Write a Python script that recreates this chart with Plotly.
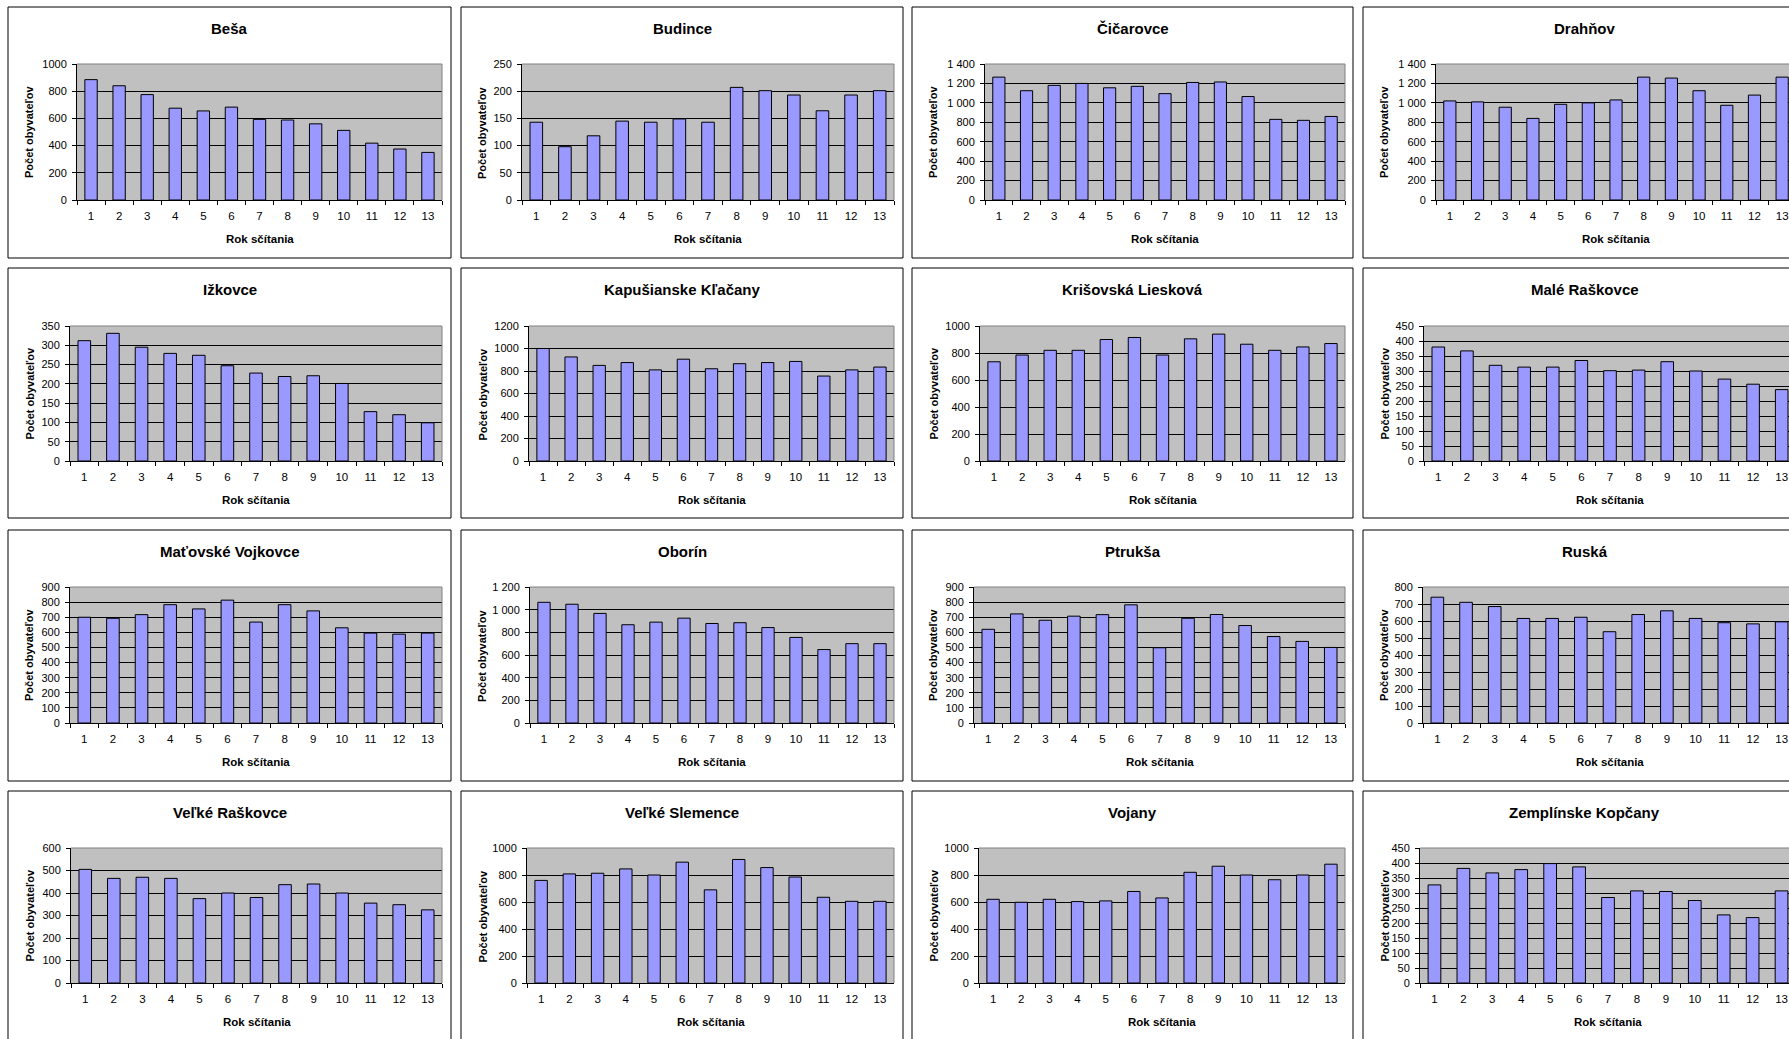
import plotly.graph_objects as go

W, H = 1789, 1039

years = [str(i) for i in range(1, 14)]

names = ["Beša", "Budince", "Čičarovce", "Drahňov",
         "Ižkovce", "Kapušianske Kľačany", "Krišovská Liesková", "Malé Raškovce",
         "Maťovské Vojkovce", "Oborín", "Ptrukša", "Ruská",
         "Veľké Raškovce", "Veľké Slemence", "Vojany", "Zemplínske Kopčany"]

besa = [885, 840, 775, 675, 655, 683, 593, 588, 560, 512, 418, 375, 350]
budince = [143, 98, 118, 145, 143, 149, 143, 207, 201, 193, 164, 193, 201]
cicarovce = [1265, 1125, 1180, 1200, 1155, 1170, 1095, 1210, 1215, 1065, 830, 820, 860]
drahnov = [1020, 1010, 955, 840, 985, 1000, 1030, 1265, 1255, 1125, 975, 1080, 1265]
izkovce = [312, 331, 295, 279, 274, 247, 228, 219, 221, 201, 128, 120, 99]
kapusianske = [1000, 925, 850, 875, 810, 905, 820, 865, 875, 885, 755, 810, 835]
krisovska = [735, 785, 820, 820, 900, 915, 785, 905, 940, 865, 820, 845, 870]
male_raskovce = [380, 367, 319, 313, 313, 335, 301, 303, 331, 300, 273, 256, 238]
matovske = [700, 693, 717, 783, 755, 813, 668, 783, 742, 630, 595, 588, 595]
oborin = [1065, 1048, 967, 867, 890, 925, 878, 885, 842, 755, 648, 700, 700]
ptruksa = [620, 722, 680, 707, 717, 782, 498, 693, 718, 645, 572, 540, 500]
ruska = [740, 710, 685, 615, 615, 622, 537, 638, 660, 615, 590, 583, 595]
velke_raskovce = [505, 465, 470, 465, 375, 400, 380, 437, 440, 400, 355, 348, 325]
velke_slemence = [760, 808, 813, 845, 800, 895, 690, 915, 855, 785, 635, 605, 605]
vojany = [620, 598, 620, 603, 608, 678, 630, 820, 865, 800, 765, 800, 880]
zemplinske = [327, 382, 367, 378, 398, 387, 285, 307, 305, 275, 227, 218, 307]

ticks_besa = ["0", "200", "400", "600", "800", "1000"]
ticks_budince = ["0", "50", "100", "150", "200", "250"]
ticks_cicarovce = ["0", "200", "400", "600", "800", "1 000", "1 200", "1 400"]
ticks_drahnov = ["0", "200", "400", "600", "800", "1 000", "1 200", "1 400"]
ticks_izkovce = ["0", "50", "100", "150", "200", "250", "300", "350"]
ticks_kapusianske = ["0", "200", "400", "600", "800", "1000", "1200"]
ticks_krisovska = ["0", "200", "400", "600", "800", "1000"]
ticks_male_raskovce = ["0", "50", "100", "150", "200", "250", "300", "350", "400", "450"]
ticks_matovske = ["0", "100", "200", "300", "400", "500", "600", "700", "800", "900"]
ticks_oborin = ["0", "200", "400", "600", "800", "1 000", "1 200"]
ticks_ptruksa = ["0", "100", "200", "300", "400", "500", "600", "700", "800", "900"]
ticks_ruska = ["0", "100", "200", "300", "400", "500", "600", "700", "800"]
ticks_velke_raskovce = ["0", "100", "200", "300", "400", "500", "600"]
ticks_velke_slemence = ["0", "200", "400", "600", "800", "1000"]
ticks_vojany = ["0", "200", "400", "600", "800", "1000"]
ticks_zemplinske = ["0", "50", "100", "150", "200", "250", "300", "350", "400", "450"]

series = [besa, budince, cicarovce, drahnov, izkovce, kapusianske, krisovska, male_raskovce,
          matovske, oborin, ptruksa, ruska, velke_raskovce, velke_slemence, vojany, zemplinske]
ticklabels = [ticks_besa, ticks_budince, ticks_cicarovce, ticks_drahnov, ticks_izkovce,
              ticks_kapusianske, ticks_krisovska, ticks_male_raskovce, ticks_matovske,
              ticks_oborin, ticks_ptruksa, ticks_ruska, ticks_velke_raskovce,
              ticks_velke_slemence, ticks_vojany, ticks_zemplinske]

x_title = "Rok sčítania"
y_title = "Počet obyvateľov"

# ---- layout geometry (pixels) ----
frame_left = [8, 461, 912, 1363]
frame_right = [451, 903, 1353, 1806]
frame_top = [7, 268, 530, 791]
frame_bottom = [258, 518, 781, 1045]
plot_top = [64, 326, 587, 848]
plot_bottom = [200, 461, 723, 983]
plot_right = [442, 894, 1345, 1796]
plot_left = [[77, 522, 985, 1436],
             [70, 529, 980, 1424],
             [70, 530, 974, 1423],
             [71, 527, 979, 1420]]

FONT = "Liberation Sans, Arial, sans-serif"
BAR = "#9999FF"
PLOTBG = "#C0C0C0"


def px(v):
    return v / W


def py(v):
    return 1 - v / H


fig = go.Figure()
shapes = []
annotations = []
layout_axes = {}

for i, (name, vals, tl) in enumerate(zip(names, series, ticklabels)):
    r, c = divmod(i, 4)
    n = "" if i == 0 else str(i + 1)
    pl = plot_left[r][c]
    pr_full = plot_right[c]
    pr = pr_full
    xr_end = 12.5
    if pr_full > W:
        spacing = (pr_full - pl) / 13
        xr_end = 12.5 - (pr_full - W) / spacing
        pr = W
    pt, pb = plot_top[r], plot_bottom[r]
    tv = [int(t.replace(" ", "")) for t in tl]

    fig.add_trace(go.Bar(
        x=years, y=vals, xaxis="x" + n, yaxis="y" + n,
        marker=dict(color=BAR, line=dict(color="black", width=1)),
        width=0.44, showlegend=False, hoverinfo="skip"))

    layout_axes["xaxis" + n] = dict(
        domain=[px(pl), px(pr)], anchor="y" + n, type="category",
        range=[-0.5, xr_end], tickson="boundaries", ticks="outside", ticklen=4,
        tickcolor="black", tickwidth=1, showline=True, linecolor="black", linewidth=1,
        showgrid=False, zeroline=False, fixedrange=True, ticklabelstandoff=5,
        automargin=False,
        tickfont=dict(family=FONT, size=11.5, color="black"))
    layout_axes["yaxis" + n] = dict(
        domain=[py(pb), py(pt)], anchor="x" + n, range=[0, tv[-1]],
        tickvals=tv, ticktext=tl, ticks="outside", ticklen=4, tickcolor="black",
        tickwidth=1, showline=True, linecolor="black", linewidth=1, ticklabelstandoff=3,
        showgrid=True, gridcolor="black", gridwidth=1, zeroline=False, fixedrange=True,
        automargin=False,
        tickfont=dict(family=FONT, size=11, color="black"))

    # plot-area border (top + right), grey
    shapes.append(dict(type="line", xref="paper", yref="paper",
                       x0=px(pl), x1=px(pr), y0=py(pt), y1=py(pt),
                       line=dict(color="#808080", width=1), layer="above"))
    if pr_full <= W:
        shapes.append(dict(type="line", xref="paper", yref="paper",
                           x0=px(pr), x1=px(pr), y0=py(pt), y1=py(pb),
                           line=dict(color="#808080", width=1), layer="above"))
    # chart frame
    shapes.append(dict(type="rect", xref="paper", yref="paper",
                       x0=px(frame_left[c]), x1=px(frame_right[c]),
                       y0=py(frame_bottom[r]), y1=py(frame_top[r]),
                       line=dict(color="black", width=1), fillcolor="rgba(0,0,0,0)"))

    annotations.append(dict(text="<b>%s</b>" % name, xref="paper", yref="paper",
                            x=px((frame_left[c] + frame_right[c]) / 2), y=py(frame_top[r] + 21),
                            xanchor="center", yanchor="middle", showarrow=False,
                            font=dict(family=FONT, size=15, color="black")))
    annotations.append(dict(text="<b>%s</b>" % x_title, xref="paper", yref="paper",
                            x=px((pl + pr_full) / 2), y=py(pb + 39),
                            xanchor="center", yanchor="middle", showarrow=False,
                            font=dict(family=FONT, size=11.5, color="black")))
    annotations.append(dict(text="<b>%s</b>" % y_title, xref="paper", yref="paper",
                            x=px(frame_left[c] + 21), y=py((pt + pb) / 2),
                            xanchor="center", yanchor="middle", showarrow=False,
                            textangle=-90,
                            font=dict(family=FONT, size=11, color="black")))

fig.update_layout(
    width=W, height=H, autosize=False,
    margin=dict(l=0, r=0, t=0, b=0, pad=0, autoexpand=False),
    paper_bgcolor="white", plot_bgcolor=PLOTBG,
    showlegend=False, shapes=shapes, annotations=annotations,
    font=dict(family=FONT, color="black"),
    **layout_axes)

fig.write_html(
    "out.html", config={"displayModeBar": False},
    post_script=("var s=document.createElement('style');"
                 "s.textContent='html,body{margin:0;padding:0;overflow:hidden;"
                 "width:1789px;height:1039px;}';"
                 "document.head.appendChild(s);"))
